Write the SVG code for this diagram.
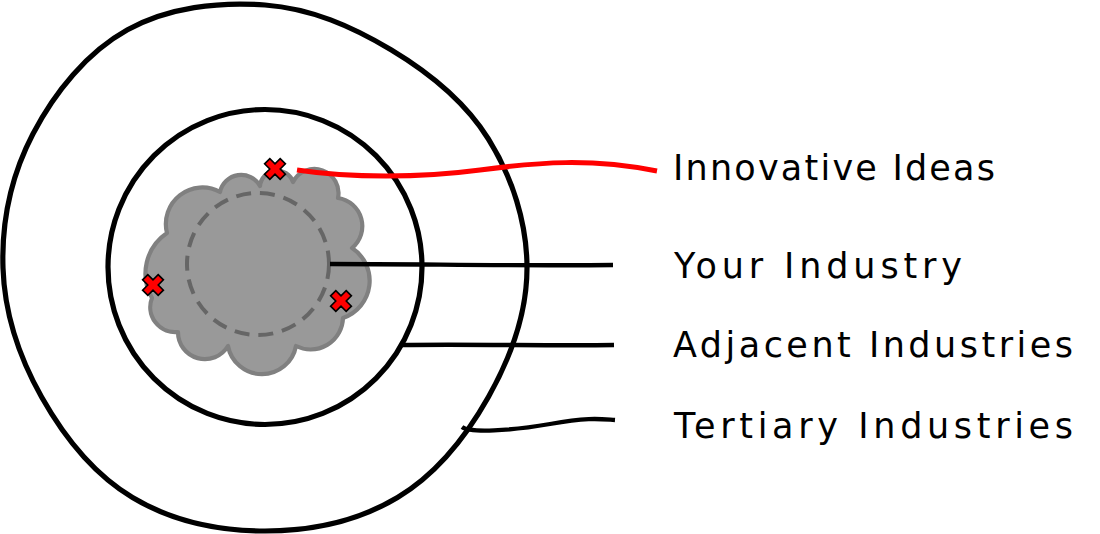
<svg xmlns="http://www.w3.org/2000/svg" width="1100" height="534" viewBox="0 0 1100 534">
<style>
.ring{fill:none;stroke:#000;stroke-width:5.2;stroke-linejoin:round}
.conn{fill:none;stroke:#000;stroke-width:4.3;stroke-linecap:butt}
.red{fill:none;stroke:#ff0000;stroke-width:5}
.lbl{font-family:"DejaVu Sans","Liberation Sans",sans-serif;font-size:35px;fill:#000}
.xm{fill:#ff0000;stroke:#000;stroke-width:1.6;stroke-linejoin:miter}
</style>
<defs>
<path id="xshape" d="M-3.7,-11 L3.7,-11 L3.7,-3.7 L11,-3.7 L11,3.7 L3.7,3.7 L3.7,11 L-3.7,11 L-3.7,3.7 L-11,3.7 L-11,-3.7 L-3.7,-3.7 Z" transform="rotate(45)"/>
</defs>
<rect width="1100" height="534" fill="#fff"/>
<g id="tertiary-ring">
<path class="ring" d="M527,268 C527,313.3 511.1,356.7 488.4,397 C465.7,437.3 436.7,474 397.5,497.5 C358.3,521 311.5,531 265,531 C218.5,531 171.7,521 132.5,497.5 C93.3,474 64.3,437.3 41.6,397 C18.9,356.7 4.5,314.1 3,268 C1.5,221.9 11.1,175.8 32.9,134 C54.7,92.2 86.8,52.4 127.5,29.8 C168.2,7.2 218.8,1.5 265,5 C311.2,8.5 351.8,26.3 391,49.8 C430.2,73.3 464.5,100.7 488.4,139 C512.3,177.3 527,222.7 527,268 Z"/>
</g>
<g id="adjacent-ring">
<ellipse class="ring" cx="265" cy="267" rx="157" ry="157.5"/>
</g>
<g id="your-industry">
<path d="M152,298 A49,49 0 0 1 167,233 A36.5,36.5 0 0 1 220,192 A21.6,21.6 0 0 1 260,186 A17,17 0 0 1 293,182 A24.1,24.1 0 0 1 338,198 A28.4,28.4 0 0 1 352,248 A39.3,39.3 0 0 1 343,318 A32.4,32.4 0 0 1 296,346 A34.6,34.6 0 0 1 228,346 A26.9,26.9 0 0 1 178,332 A25,25 0 0 1 152,298 Z" fill="#999999" stroke="#808080" stroke-width="4.2" stroke-linejoin="round"/>
<circle cx="258" cy="264" r="71" fill="none" stroke="#666666" stroke-width="4" stroke-dasharray="15 9"/>
</g>
<g id="connectors">
<path class="red" d="M297,170 C350,178 420,178 480,170 S590,158 657,171"/>
<path class="conn" d="M330,264 C420,264 520,266 613,265"/>
<path class="conn" d="M400,345 C480,344 550,346 614,345"/>
<path class="conn" d="M462,427 C470,433 510,431 550,424 S600,419 615,420"/>
</g>
<g id="ideas">
<use href="#xshape" class="xm" transform="translate(275,169)"/>
<use href="#xshape" class="xm" transform="translate(153,285)"/>
<use href="#xshape" class="xm" transform="translate(341,301)"/>
</g>
<g id="labels">
<text class="lbl" x="673" y="180" textLength="322" lengthAdjust="spacing">Innovative Ideas</text>
<text class="lbl" x="674" y="278" textLength="288" lengthAdjust="spacing">Your Industry</text>
<text class="lbl" x="673" y="357" textLength="400" lengthAdjust="spacing">Adjacent Industries</text>
<text class="lbl" x="674" y="438" textLength="399" lengthAdjust="spacing">Tertiary Industries</text>
</g>
</svg>
